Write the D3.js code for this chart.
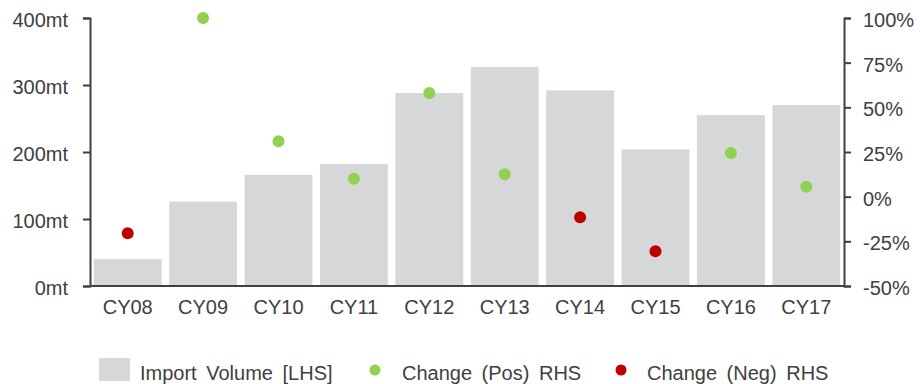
<!DOCTYPE html>
<html>
<head>
<meta charset="utf-8">
<script src="https://cdn.jsdelivr.net/npm/d3@7"></script>
<style>
  html, body { margin: 0; padding: 0; background: #ffffff; }
  svg text { font-family: "Liberation Sans", Arial, sans-serif; fill: #404040; }
</style>
</head>
<body>
<svg id="chart" width="920" height="384"></svg>
<script>
// Import volumes (mt) and year-on-year change (%)
const categories = ["CY08", "CY09", "CY10", "CY11", "CY12", "CY13", "CY14", "CY15", "CY16", "CY17"];
const importVolume = [40, 126, 166, 182, 288, 327, 292, 204, 255, 270];
const changePct = [-20.5, 100, 31, 10, 58, 12.5, -11.5, -30.5, 24.5, 5.5];
const leftTicks = [0, 100, 200, 300, 400];
const rightTicks = [-50, -25, 0, 25, 50, 75, 100];
const legendLabels = ["Import Volume [LHS]", "Change (Pos) RHS", "Change (Neg) RHS"];

const colors = { bar: "#d6d7d9", pos: "#92d050", neg: "#c00000", axis: "#404040" };

const svg = d3.select("#chart");
const plot = { left: 90, right: 844, top: 18, bottom: 286 };

const x = d3.scaleBand().domain(categories).range([plot.left, plot.right])
  .paddingInner(0.1).paddingOuter(0.05);
const yL = d3.scaleLinear().domain([0, 400]).range([plot.bottom, plot.top]);
const yR = d3.scaleLinear().domain([-50, 100]).range([plot.bottom, plot.top]);

// Bars
svg.append("g").selectAll("rect").data(categories).join("rect")
  .attr("x", d => x(d))
  .attr("y", (d, i) => yL(importVolume[i]))
  .attr("width", x.bandwidth())
  .attr("height", (d, i) => yL(0) - yL(importVolume[i]))
  .attr("fill", colors.bar);

// Left axis
const axL = svg.append("g").attr("transform", `translate(${plot.left},0)`)
  .call(d3.axisLeft(yL).tickValues(leftTicks).tickSize(7).tickPadding(15)
    .tickFormat(d => d + "mt"));

// Right axis
const axR = svg.append("g").attr("transform", `translate(${plot.right},0)`)
  .call(d3.axisRight(yR).tickValues(rightTicks).tickSize(7).tickPadding(12)
    .tickFormat(d => d + "%"));

// Bottom axis (labels only, with baseline)
const axB = svg.append("g").attr("transform", `translate(0,${plot.bottom})`)
  .call(d3.axisBottom(x).tickSize(0).tickPadding(14));

[axL, axR, axB].forEach(g => {
  g.select(".domain").attr("stroke", colors.axis).attr("stroke-width", 2);
  g.selectAll(".tick line").attr("stroke", colors.axis).attr("stroke-width", 2);
  g.selectAll(".tick text").attr("font-size", 20).attr("fill", colors.axis)
    .style("font-family", "'Liberation Sans', Arial, sans-serif");
});
axL.selectAll(".tick text").attr("dy", "0.42em");
axR.selectAll(".tick text").attr("dy", "0.42em");
axB.select(".domain").attr("d", `M${plot.left},0H${plot.right}`);

// Change dots
svg.append("g").selectAll("circle").data(categories).join("circle")
  .attr("cx", d => x(d) + x.bandwidth() / 2)
  .attr("cy", (d, i) => yR(changePct[i]))
  .attr("r", 6)
  .attr("fill", (d, i) => changePct[i] >= 0 ? colors.pos : colors.neg);

// Legend
const lg = svg.append("g").attr("font-size", 20).style("word-spacing", "4px");
lg.append("rect").attr("x", 99).attr("y", 358).attr("width", 31).attr("height", 23).attr("fill", colors.bar);
lg.append("text").attr("x", 140).attr("y", 380).text(legendLabels[0]);
lg.append("circle").attr("cx", 375).attr("cy", 370).attr("r", 5.5).attr("fill", colors.pos);
lg.append("text").attr("x", 402).attr("y", 380).text(legendLabels[1]);
lg.append("circle").attr("cx", 621).attr("cy", 370).attr("r", 5.5).attr("fill", colors.neg);
lg.append("text").attr("x", 647).attr("y", 380).text(legendLabels[2]);
</script>
</body>
</html>
